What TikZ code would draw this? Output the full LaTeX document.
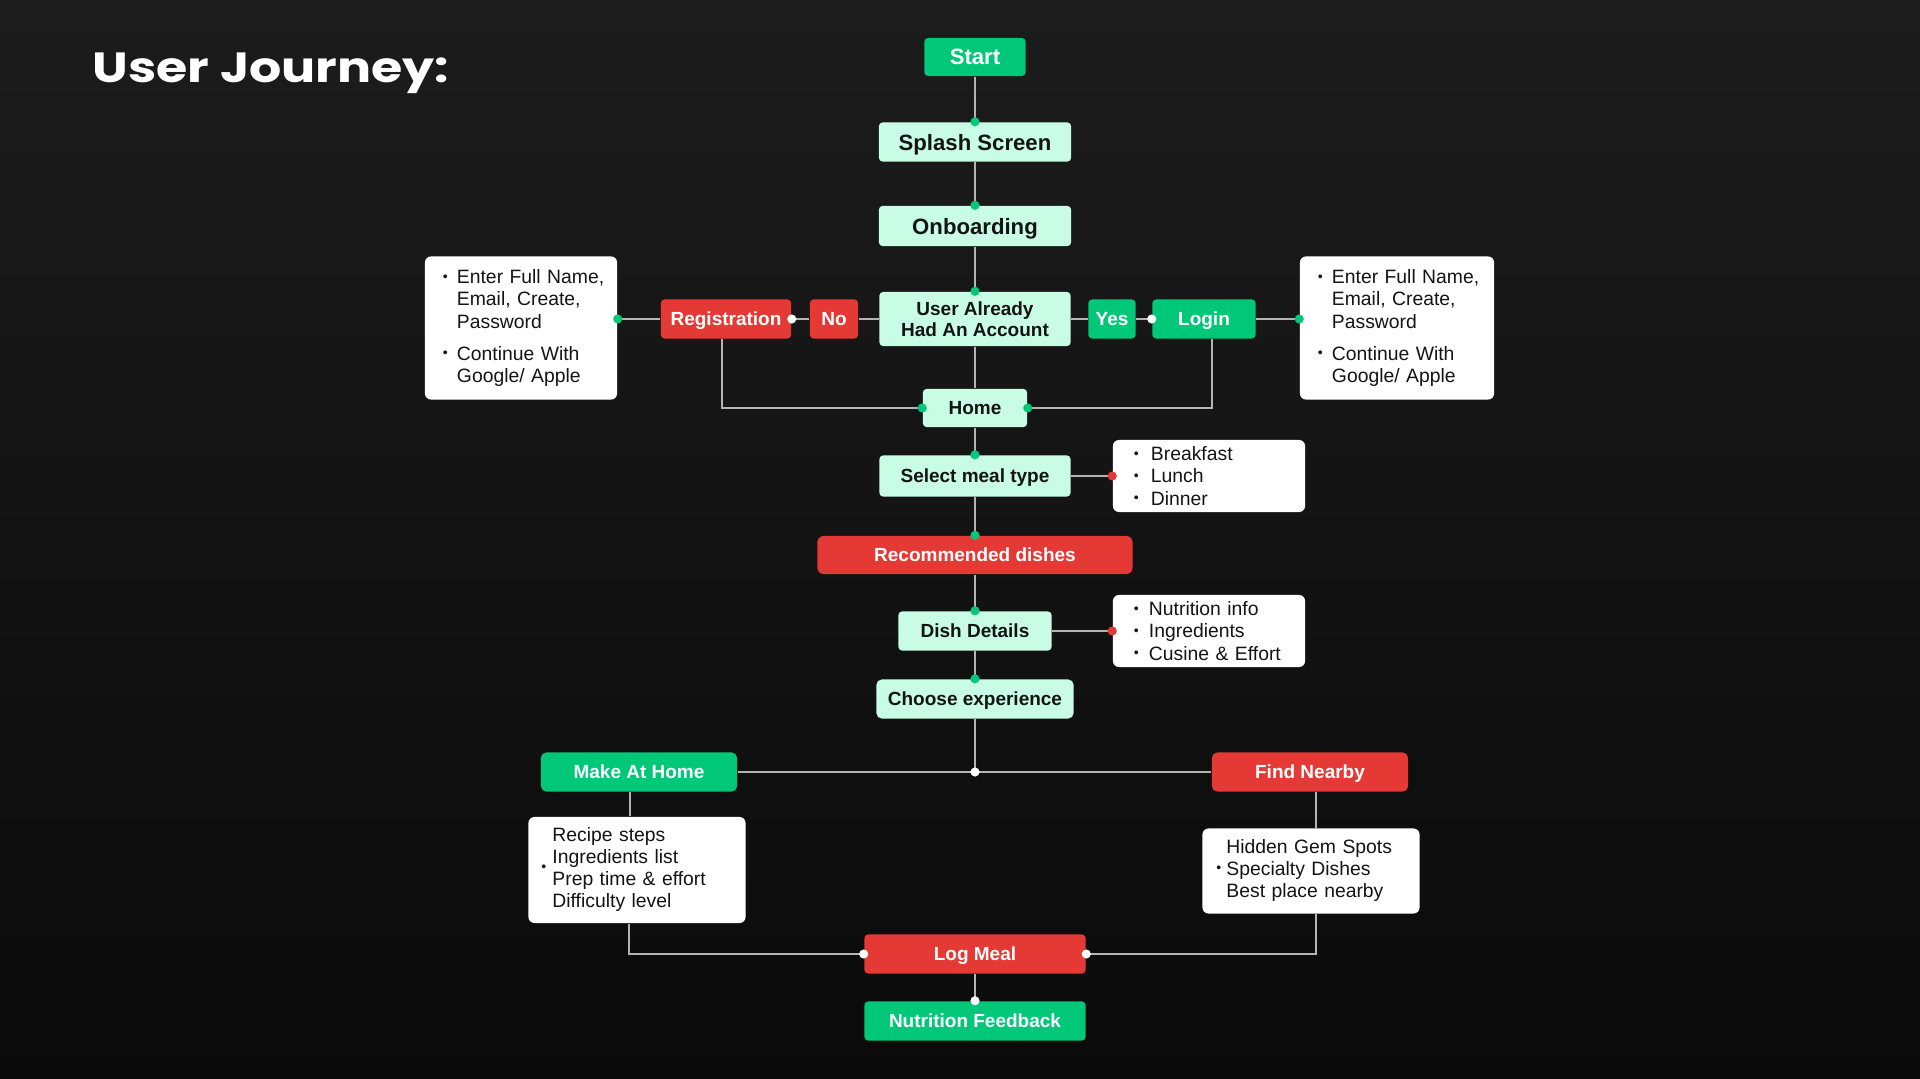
\documentclass[tikz,border=0pt]{standalone}
\usepackage{fontspec}
\setmainfont{Liberation Sans}
\newfontfamily\titlefont{Poppins}[FakeStretch=1.2]
\usepackage{xcolor}
\usetikzlibrary{positioning}

\definecolor{jgreen}{HTML}{00C878}
\definecolor{jmint}{HTML}{C8FCE4}
\definecolor{jred}{HTML}{E53935}
\definecolor{jline}{HTML}{B4B4B4}
\definecolor{jink}{HTML}{141414}

\newcommand{\bul}[1]{\makebox[#1][l]{\raisebox{0.25ex}{\fontsize{4}{4}\selectfont\textbullet}}}
\newcommand{\gdot}[1]{\fill[jgreen] (#1) circle (1.3pt);}
\newcommand{\rdot}[1]{\fill[jred] (#1) circle (1.3pt);}
\newcommand{\wdot}[1]{\fill[white] (#1) circle (1.3pt);}

\begin{document}
\begin{tikzpicture}[x=0.01cm, y=-0.01cm,
    box/.style={rectangle, rounded corners=1pt, inner sep=0pt, text depth=0pt, minimum height=0.39cm, align=center},
    greenbox/.style={box, fill=jgreen, text=white, font=\bfseries\fontsize{5.4}{5.8}\selectfont},
    mintbox/.style={box, fill=jmint, text=jink, font=\bfseries\fontsize{5.4}{5.8}\selectfont},
    redbox/.style={box, fill=jred, text=white, font=\bfseries\fontsize{5.4}{5.8}\selectfont},
    bigtext/.style={font=\bfseries\fontsize{6.3}{7}\selectfont},
    notebox/.style={rectangle, rounded corners=1.7pt, fill=white, text=jink, align=left, inner ysep=0pt, font=\fontsize{5.5}{6.3}\selectfont},
    link/.style={draw=jline, line width=0.45pt}]
    \shade[top color=black!89, bottom color=black!96] (0,0) rectangle (1920,1079);
    \useasboundingbox (0,0) rectangle (1920,1079);

    \node[anchor=base west, inner sep=0pt, text=white, font=\titlefont\bfseries\fontsize{12}{14}\selectfont] (title) at (92,83) {User Journey:};

    % main column
    \node[greenbox, bigtext, minimum width=1.01cm, minimum height=0.38cm] (start) at (975,57) {Start};
    \node[mintbox, bigtext, minimum width=1.92cm] (splash) at (975,142) {Splash Screen};
    \node[mintbox, bigtext, minimum width=1.92cm, minimum height=0.40cm] (onboard) at (975,226) {Onboarding};
    \node[mintbox, minimum width=1.91cm, minimum height=0.54cm] (account) at (975,319) {User Already\\Had An Account};
    \node[redbox, minimum width=1.30cm] (reg) at (726,319) {Registration};
    \node[redbox, minimum width=0.48cm] (no) at (834,319) {No};
    \node[greenbox, minimum width=0.47cm] (yes) at (1112,319) {Yes};
    \node[greenbox, minimum width=1.03cm] (login) at (1204,319) {Login};
    \node[notebox, minimum width=1.92cm, minimum height=1.43cm, text width=1.56cm, inner xsep=0.18cm] (regnote) at (521,328)
        {\bul{0.14cm}\mbox{Enter Full Name,}\\ \hspace*{0.14cm}Email, Create,\\ \hspace*{0.14cm}Password\\[2.8pt]
         \bul{0.14cm}Continue With\\ \hspace*{0.14cm}Google/ Apple};
    \node[notebox, minimum width=1.94cm, minimum height=1.43cm, text width=1.58cm, inner xsep=0.18cm] (loginnote) at (1397,328)
        {\bul{0.14cm}\mbox{Enter Full Name,}\\ \hspace*{0.14cm}Email, Create,\\ \hspace*{0.14cm}Password\\[2.8pt]
         \bul{0.14cm}Continue With\\ \hspace*{0.14cm}Google/ Apple};
    \node[mintbox, minimum width=1.04cm, minimum height=0.38cm] (home) at (975,408) {Home};
    \node[mintbox, minimum width=1.91cm, minimum height=0.41cm] (meal) at (975,476) {Select meal type};
    \node[notebox, minimum width=1.92cm, minimum height=0.72cm, text width=1.50cm, inner xsep=0.21cm] (mealnote) at (1209,476)
        {\bul{0.17cm}Breakfast\\ \bul{0.17cm}Lunch\\ \bul{0.17cm}Dinner};
    \node[redbox, minimum width=3.15cm, minimum height=0.38cm, rounded corners=1.8pt] (rec) at (975,555) {Recommended dishes};
    \node[mintbox, minimum width=1.53cm] (dish) at (975,631) {Dish Details};
    \node[notebox, minimum width=1.92cm, minimum height=0.72cm, text width=1.50cm, inner xsep=0.21cm] (dishnote) at (1209,631)
        {\bul{0.15cm}Nutrition info\\ \bul{0.15cm}Ingredients\\ \bul{0.15cm}Cusine \& Effort};
    \node[mintbox, minimum width=1.97cm, rounded corners=1.5pt] (choose) at (975,699) {Choose experience};

    % two ways
    \node[greenbox, minimum width=1.96cm, rounded corners=1.5pt] (make) at (639,772) {Make At Home};
    \node[redbox, minimum width=1.96cm, rounded corners=1.5pt] (find) at (1310,772) {Find Nearby};
    \node[notebox, minimum width=2.17cm, minimum height=1.06cm, text width=1.91cm, inner xsep=0.13cm] (recipe) at (637,870)
        {\bul{0.11cm}\begin{tabular}{@{}l@{}}Recipe steps\\Ingredients list\\Prep time \& effort\\Difficulty level\end{tabular}};
    \node[notebox, minimum width=2.17cm, minimum height=0.85cm, text width=1.89cm, inner xsep=0.14cm] (hidden) at (1311,871)
        {\bul{0.10cm}\begin{tabular}{@{}l@{}}Hidden Gem Spots\\Specialty Dishes\\Best place nearby\end{tabular}};
    \node[redbox, minimum width=2.21cm] (log) at (975,954) {Log Meal};
    \node[greenbox, minimum width=2.21cm] (feedback) at (975,1021) {Nutrition Feedback};

    % connectors
    \draw[link] (start) -- (splash);
    \draw[link] (splash) -- (onboard);
    \draw[link] (onboard) -- (account);
    \draw[link] (account) -- (no);
    \draw[link] (no) -- (reg);
    \coordinate (regend) at (reg.west -| regnote.east);
    \draw[link] (reg.west) -- (regend);
    \draw[link] (account) -- (yes);
    \draw[link] (yes) -- (login);
    \coordinate (loginend) at (login.east -| loginnote.west);
    \draw[link] (login.east) -- (loginend);
    \draw[link] (account) -- (home);
    \draw[link] ([xshift=-0.04cm]reg.south) |- (home.west);
    \draw[link] ([xshift=0.08cm]login.south) |- (home.east);
    \draw[link] (home) -- (meal);
    \draw[link] (meal) -- (mealnote);
    \draw[link] (meal) -- (rec);
    \draw[link] (rec) -- (dish);
    \draw[link] (dish) -- (dishnote);
    \draw[link] (dish) -- (choose);
    \coordinate (fork) at (choose.south |- make.east);
    \draw[link] (choose) -- (fork);
    \draw[link] (make) -- (find);
    \draw[link] ([xshift=-0.09cm]make.south) -- ([xshift=-0.09cm]make.south |- recipe.north);
    \draw[link] ([xshift=-0.08cm]recipe.south) |- (log.west);
    \draw[link] ([xshift=0.06cm]find.south) -- ([xshift=0.06cm]find.south |- hidden.north);
    \draw[link] ([xshift=0.05cm]hidden.south) |- (log.east);
    \draw[link] (log) -- (feedback);

    % dots
    \gdot{splash.north} \gdot{onboard.north} \gdot{account.north}
    \wdot{reg.east} \gdot{regend} \wdot{login.west} \gdot{loginend}
    \gdot{home.west} \gdot{home.east} \gdot{meal.north} \rdot{mealnote.west}
    \gdot{rec.north} \gdot{dish.north} \rdot{dishnote.west} \gdot{choose.north}
    \wdot{fork} \wdot{log.west} \wdot{log.east} \wdot{feedback.north}
\end{tikzpicture}
\end{document}
